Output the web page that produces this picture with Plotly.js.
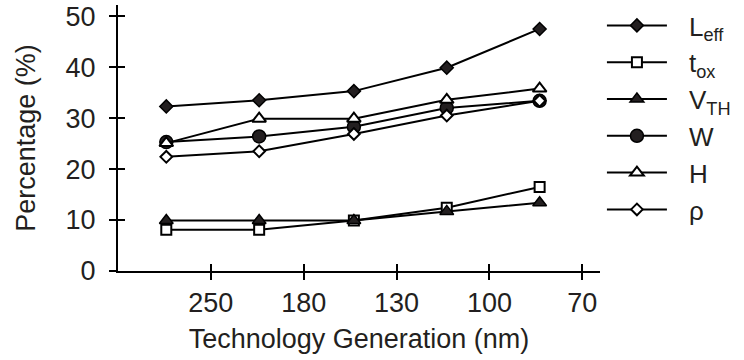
<!DOCTYPE html>
<html><head><meta charset="utf-8">
<script src="https://cdn.plot.ly/plotly-3.0.1.min.js"></script>
<style>html,body{margin:0;padding:0;background:#fff}#c{width:744px;height:360px}</style>
</head><body><div id="c"></div>
<script>
const xPos = [0.52, 1.52, 2.54, 3.54, 4.54];
const tickVals = [1, 2, 3, 4, 5];
const tickText = ['250', '180', '130', '100', '70'];
const seriesNames = ['L<sub>eff</sub>', 't<sub>ox</sub>', 'V<sub>TH</sub>', 'W', 'H', 'ρ'];
const Leff = [32.3, 33.5, 35.3, 39.9, 47.5];
const tox = [8.1, 8.1, 9.9, 12.4, 16.5];
const VTH = [9.9, 9.9, 9.9, 11.7, 13.4];
const W = [25.3, 26.4, 28.3, 32.0, 33.4];
const H = [25.1, 29.9, 29.9, 33.6, 35.8];
const rho = [22.4, 23.5, 26.9, 30.5, 33.4];
const yTicks = [0, 10, 20, 30, 40, 50];

const seriesVals = [Leff, tox, VTH, W, H, rho];
const symbols = ['diamond', 'square', 'triangle-up', 'circle', 'triangle-up', 'diamond'];
const filled = [true, false, true, true, false, false];
const sizes = [10, 10, 12, 13, 12, 9];
const ink = '#231f20';

const traces = seriesVals.map((v, i) => ({
  x: xPos, y: v, name: seriesNames[i], type: 'scatter', mode: 'lines+markers',
  line: {color: '#000', width: 2},
  marker: {symbol: symbols[i], size: sizes[i], color: filled[i] ? '#231f20' : '#fff',
           line: {color: '#000', width: filled[i] ? 1.5 : 2}},
  cliponaxis: false
}));
traces.push({x: [], y: [], xaxis: 'x2', yaxis: 'y2', showlegend: false, type: 'scatter'});

const layout = {
  width: 744, height: 360,
  margin: {l: 118, r: 144, t: 5, b: 89, autoexpand: false},
  paper_bgcolor: '#fff', plot_bgcolor: '#fff',
  font: {family: 'Liberation Sans, Arial, sans-serif', size: 27, color: ink},
  showlegend: true,
  legend: {x: 1.004, xanchor: 'left', y: 0.985, yanchor: 'top', tracegroupgap: 0,
           font: {size: 26, color: ink}, itemwidth: 77, bgcolor: 'rgba(0,0,0,0)'},
  xaxis: {range: [0, 5.19], tickvals: tickVals, ticktext: tickText, ticks: 'outside', ticklen: 7,
          tickwidth: 2, tickcolor: '#000', showline: true, linecolor: '#000', linewidth: 2,
          showgrid: false, zeroline: false, tickfont: {size: 27}, automargin: false,
          title: {text: 'Technology Generation (nm)', standoff: 12, font: {size: 27}}},
  yaxis: {range: [0, 52.2], tickvals: yTicks, ticks: 'outside', ticklen: 7, tickwidth: 2, tickcolor: '#000',
          showline: true, linecolor: '#000', linewidth: 2, showgrid: false, zeroline: false,
          tickfont: {size: 27}, ticklabelstandoff: 8, automargin: false,
          title: {text: 'Percentage (%)', standoff: 22, font: {size: 27}}},
  xaxis2: {overlaying: 'x', matches: 'x', range: [0, 5.19], tickvals: tickVals, ticks: 'inside', ticklen: 7,
           tickwidth: 2, tickcolor: '#000', showticklabels: false, showgrid: false, zeroline: false, side: 'bottom', anchor: 'y'},
  yaxis2: {overlaying: 'y', range: [0, 52.2], tickvals: [10, 20, 30, 40, 50], ticks: 'inside', ticklen: 7,
           tickwidth: 2, tickcolor: '#000', showticklabels: false, showgrid: false, zeroline: false, anchor: 'x'}
};
Plotly.newPlot('c', traces, layout, {staticPlot: true}).then(gd => {
  // lengthen legend lines to match the reference (60px line, marker centred)
  gd.querySelectorAll('.legend .traces').forEach(tr => {
    tr.querySelectorAll('.legendlines path').forEach(p => p.setAttribute('d', 'M5,0h60'));
    tr.querySelectorAll('.legendpoints path').forEach(p => p.setAttribute('transform', 'translate(35,0)'));
  });
  // nudge the whole legend block up a few pixels
  const lg = gd.querySelector('g.legend');
  if (lg) {
    const m = /translate\(([-\d.]+)[ ,]+([-\d.]+)\)/.exec(lg.getAttribute('transform') || '');
    if (m) lg.setAttribute('transform', `translate(${m[1]},${parseFloat(m[2]) - 7})`);
  }
});
</script></body></html>
